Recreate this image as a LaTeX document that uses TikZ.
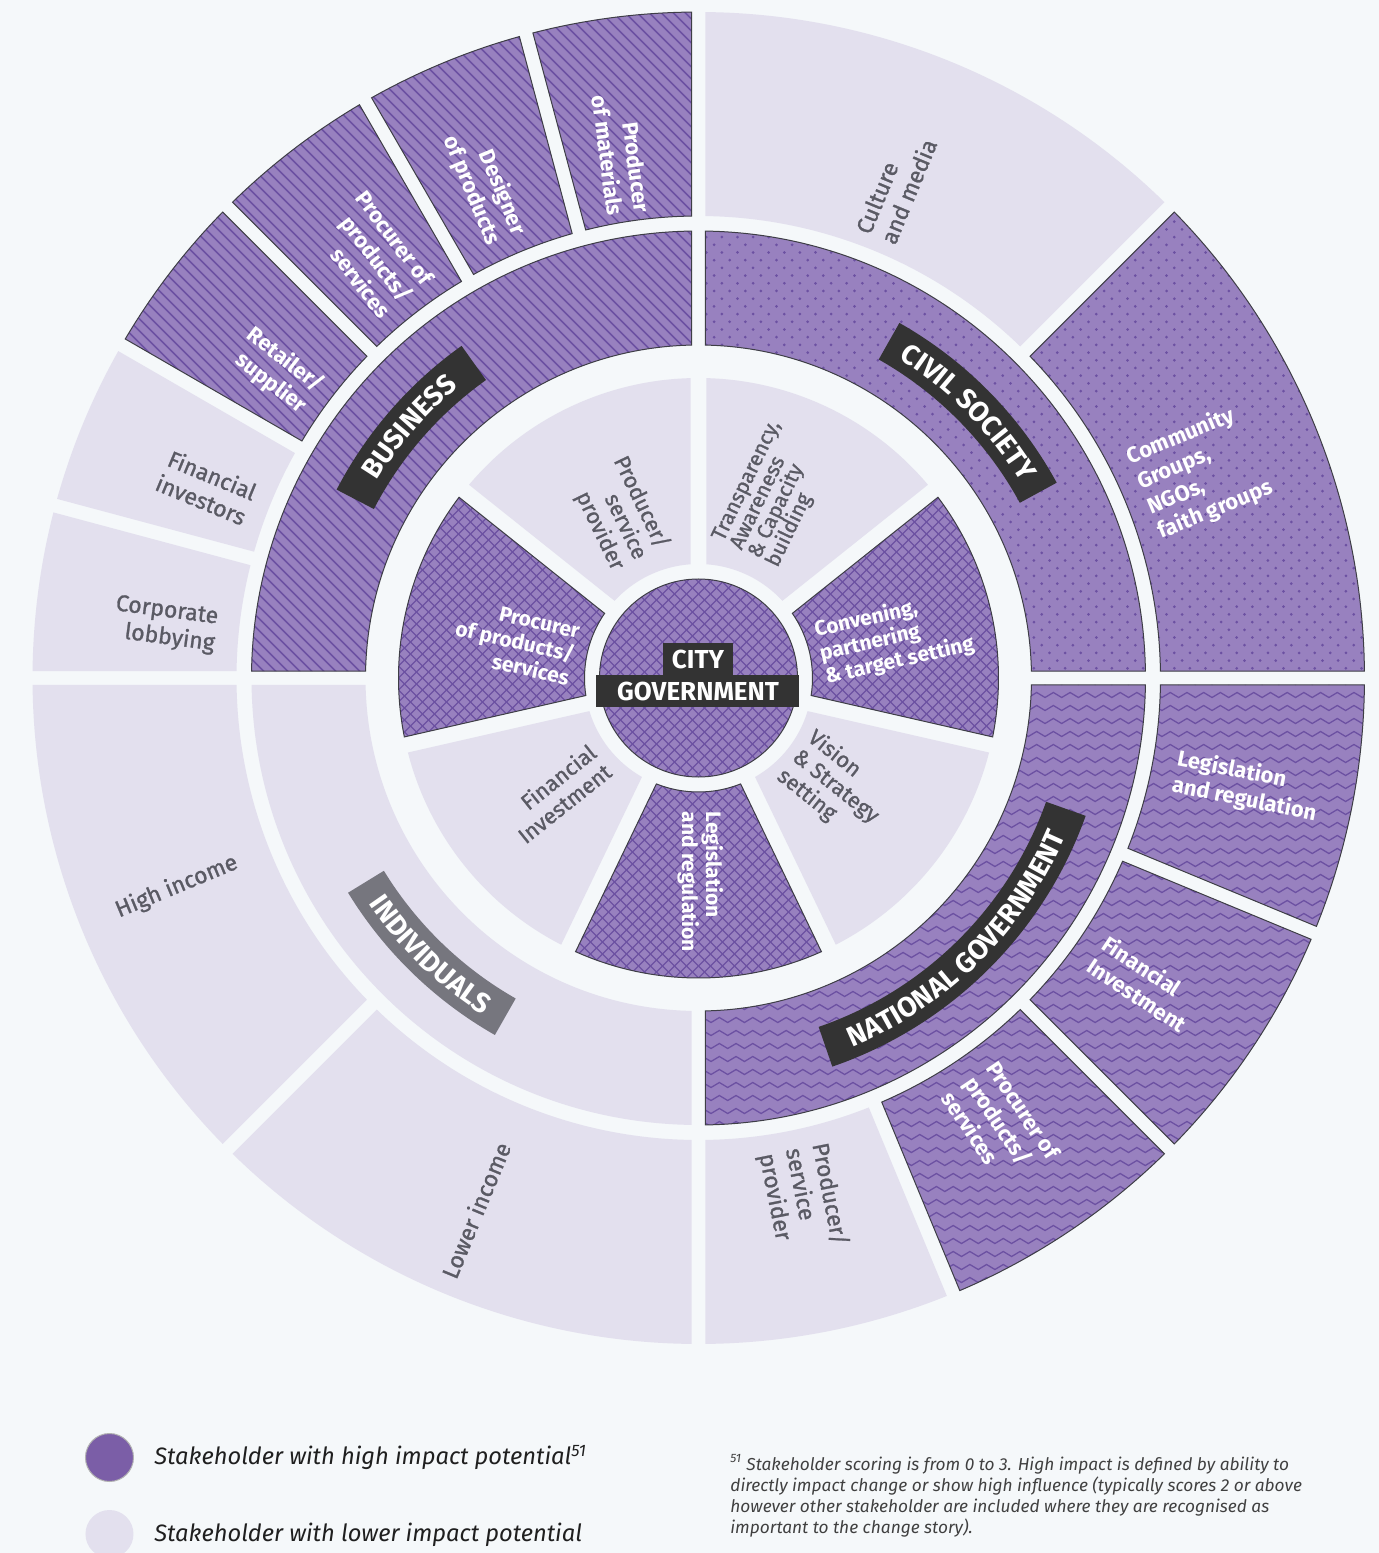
\documentclass[tikz,border=0pt]{standalone}
\usepackage{fontspec}
\setmainfont{Fira Sans}
\newfontfamily\medfont{Fira Sans}[FakeBold=1.1]
\usetikzlibrary{decorations.text,decorations.pathmorphing}
\definecolor{bg}{HTML}{F5F8FA}
\definecolor{lite}{HTML}{E3E0EE}
\definecolor{purp}{HTML}{9881BF}
\definecolor{pline}{HTML}{6C51A2}
\definecolor{edge}{HTML}{3E3E46}
\definecolor{gtext}{HTML}{5A5A64}
\definecolor{banner}{HTML}{333333}
\definecolor{gbanner}{HTML}{76767E}
\definecolor{legpurp}{HTML}{7B5EA7}
% annular sector with parallel gaps: #1 start angle, #2 end angle, #3 inner r, #4 outer r, #5 half gap
\newcommand\secp[5]{({#1+asin(#5/#4)}:#4) arc[start angle={#1+asin(#5/#4)},end angle={#2-asin(#5/#4)},radius=#4] -- ({#2-asin(#5/#3)}:#3) arc[start angle={#2-asin(#5/#3)},end angle={#1+asin(#5/#3)},radius=#3] -- cycle}
\newcommand\headfont{\bfseries\fontsize{14}{14}\selectfont}
\def\bizP{\secp{90}{105}{462}{666}{7}\secp{105}{120}{462}{666}{7}\secp{120}{135}{462}{666}{7}\secp{135}{150}{462}{666}{7}\secp{90}{180}{333}{447}{7}}
\def\civP{\secp{0}{45}{462}{666}{7}\secp{0}{90}{333}{447}{7}}
\def\natP{\secp{-22.5}{0}{462}{666}{7}\secp{-45}{-22.5}{462}{666}{7}\secp{-67.5}{-45}{462}{666}{7}\secp{-90}{0}{333}{447}{7}}
\def\cityP{\secp{141.4286}{192.8571}{114}{300}{8}\secp{244.2857}{295.7143}{114}{300}{8}\secp{347.1429}{398.5714}{114}{300}{8}(0,0) circle[radius=99]}
\def\liteP{\secp{150}{165}{462}{666}{7}\secp{165}{180}{462}{666}{7}\secp{45}{90}{462}{666}{7}\secp{-90}{-67.5}{462}{666}{7}\secp{180}{225}{462}{666}{7}\secp{225}{270}{462}{666}{7}\secp{180}{270}{333}{447}{7}\secp{90}{141.4286}{114}{300}{8}\secp{192.8571}{244.2857}{114}{300}{8}\secp{295.7143}{347.1429}{114}{300}{8}\secp{38.5714}{90}{114}{300}{8}}
\begin{document}
\begin{tikzpicture}[x=0.5pt,y=0.5pt,
  lbl/.style={inner sep=0pt},
  glbl/.style={lbl, text=gtext, font=\medfont\fontsize{11.5}{13.5}\selectfont},
  wlbl/.style={lbl, text=white, font=\bfseries\fontsize{11}{13.5}\selectfont},
  gin/.style={lbl, text=gtext, font=\medfont\fontsize{11}{12.3}\selectfont},
  win/.style={lbl, text=white, font=\bfseries\fontsize{10.5}{12}\selectfont},
  border/.style={draw=edge, line width=0.5pt},
  hatch/.style={pline, line width=0.85pt},
  cross/.style={pline, line width=0.6pt},
  wave/.style={pline, line width=0.65pt, decorate, decoration={zigzag, segment length=8.35pt, amplitude=1.25pt}},
  headtext/.style={decorate, decoration={text along path, text={|\headfont|#1}, text align=center, text color=white}},
  citybox/.style={fill=banner, text=white, font=\bfseries\fontsize{13}{13}\selectfont, inner sep=0pt, minimum height=15.5pt}
]
\useasboundingbox (-698.5,-875) rectangle (680.5,678);
\fill[bg] (-698.5,-875) rectangle (680.5,678);

% light sectors
\fill[lite] \liteP;

% business: hatch
\fill[purp] \bizP;
\begin{scope}
\clip \bizP;
\foreach \c in {-680,-668,...,680} \draw[hatch] (\c-680,680) -- (\c+10,-10);
\end{scope}
\draw[border] \bizP;

% civil society: dots
\fill[purp] \civP;
\begin{scope}
\clip \civP;
\foreach \j in {0,...,87} {\foreach \i in {0,...,43} {\fill[pline] ({\i*15.6+mod(\j,2)*7.8},{\j*7.7+2}) circle[radius=1.5];}}
\end{scope}
\draw[border] \civP;

% national government: waves
\fill[purp] \natP;
\begin{scope}
\clip \natP;
\foreach \y in {-4,-17,...,-680} \draw[wave] (0,\y) -- (680,\y);
\end{scope}
\draw[border] \natP;

% city government: crosshatch
\fill[purp] \cityP;
\begin{scope}
\clip \cityP;
\foreach \c in {-432,-420,...,432} {\draw[cross] (\c+310,-310) -- (\c-310,310); \draw[cross] (\c-310,-310) -- (\c+310,310);}
\end{scope}
\draw[border] \cityP;

% banners
\fill[banner] (125.5:366) arc[start angle=125.5,end angle=152.5,radius=366] -- (152.5:408) arc[start angle=152.5,end angle=125.5,radius=408] -- cycle;
\path[headtext=BUSINESS] (152.5:377) arc[start angle=152.5,end angle=125.5,radius=377];
\fill[banner] (28.6:366) arc[start angle=28.6,end angle=60.5,radius=366] -- (60.5:408) arc[start angle=60.5,end angle=28.6,radius=408] -- cycle;
\path[headtext=CIVIL SOCIETY] (60.5:377) arc[start angle=60.5,end angle=28.6,radius=377];
\fill[banner] (-71:369) arc[start angle=-71,end angle=-19.6,radius=369] -- (-19.6:411) arc[start angle=-19.6,end angle=-71,radius=411] -- cycle;
\path[headtext=NATIONAL GOVERNMENT] (-71:400) arc[start angle=-71,end angle=-19.6,radius=400];
\fill[gbanner] (211.5:369) arc[start angle=211.5,end angle=240.3,radius=369] -- (240.3:411) arc[start angle=240.3,end angle=211.5,radius=411] -- cycle;
\path[headtext=INDIVIDUALS] (211.5:400) arc[start angle=211.5,end angle=240.3,radius=400];

% city government label
\node[citybox, minimum width=35pt] (city) at (-0.5,19) {CITY};
\node[citybox, minimum width=101.5pt, minimum height=16pt] (gov) at (-0.5,-13) {GOVERNMENT};

% outer ring labels
\node[wlbl, rotate=-82.5, align=right] (o1) at (98.4:530) {Producer\\of materials};
\node[wlbl, rotate=-67.5, align=right] (o2) at (113.5:537) {Designer\\of products};
\node[wlbl, rotate=-52.5, align=right] (o3) at (127.5:534) {Procurer of\\products/\\services};
\node[wlbl, rotate=-37.5, align=right] (o4) at (143.9:522) {Retailer/\\supplier};
\node[glbl, rotate=-22.5, align=right] (o5) at (158.8:528) {Financial\\investors};
\node[glbl, rotate=-7.5, align=right] (o6) at (174.3:536) {Corporate\\lobbying};
\node[glbl, rotate=67.5, align=left] (o7) at (68.1:530) {Culture\\and media};
\node[wlbl, rotate=22.5, align=left] (o8) at (22.3:542) {Community\\Groups,\\NGOs,\\faith groups};
\node[wlbl, rotate=-11.25, align=left] (o9) at (-11.2:559) {Legislation\\and regulation};
\node[wlbl, rotate=-33.75, align=left] (o10) at (-34.4:541) {Financial\\Investment};
\node[wlbl, rotate=-56.25, align=left] (o11) at (-55.9:540) {Procurer of\\products/\\services};
\node[glbl, rotate=-78.75, align=left] (o12) at (-78.7:532) {Producer/\\service\\provider};
\node[glbl, rotate=22.5] (o13) at (201.8:562) {High income};
\node[glbl, rotate=67.5] (o14) at (247.3:577) {Lower income};

% inner ring labels
\node[gin, rotate=-64.29, align=right] (i1) at (115.8:183) {Producer/\\service\\provider};
\node[gin, rotate=64.29, align=left, font={\medfont\fontsize{10.5}{10}\selectfont\lineskiplimit=-20pt}] (i2) at (67.6:199) {Transparency,\\Awareness\\\& Capacity\\building};
\node[win, rotate=12.86, align=left] (i3) at (11.7:200) {Convening,\\partnering\\\& target setting};
\node[gin, rotate=-38.57, align=left] (i4) at (-38.4:175) {Vision\\\& Strategy\\setting};
\node[win, rotate=-90, align=left] (i5) at (-89.5:204) {Legislation\\and regulation};
\node[gin, rotate=38.57, align=right] (i6) at (219.2:183) {Financial\\Investment};
\node[win, rotate=-12.86, align=right] (i7) at (168.8:187) {Procurer\\of products/\\services};

% legend
\draw[fill=legpurp, draw=gray!60, line width=0.5pt] (-589,-779.5) circle[radius=24];
\fill[lite] (-589,-856) circle[radius=24];
\node[anchor=west, inner sep=0pt, font=\itshape\fontsize{11.85}{14}\selectfont, text=black!88] (leg1) at (-544.5,-779.5) {Stakeholder with high impact potential\textsuperscript{51}};
\node[anchor=west, inner sep=0pt, font=\itshape\fontsize{11.85}{14}\selectfont, text=black!88] (leg2) at (-544.5,-857) {Stakeholder with lower impact potential};
\node[anchor=north west, inner sep=0pt, align=left, font=\itshape\fontsize{8.65}{10.5}\selectfont, text=black!75] (foot) at (31.5,-776) {\textsuperscript{51} Stakeholder scoring is from 0 to 3. High impact is defined by ability to\\directly impact change or show high influence (typically scores 2 or above\\however other stakeholder are included where they are recognised as\\important to the change story).};
\end{tikzpicture}
\end{document}
